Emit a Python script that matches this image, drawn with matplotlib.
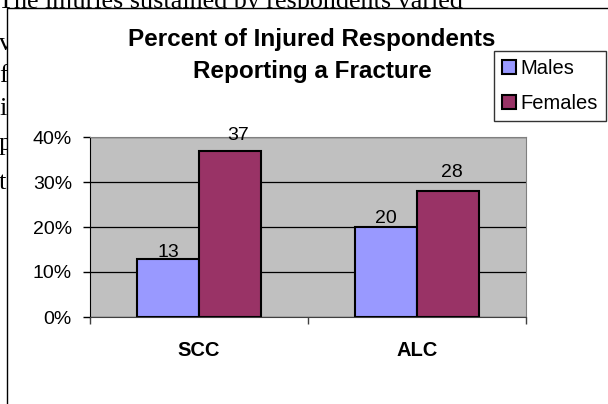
import numpy as np
import matplotlib.pyplot as plt
from matplotlib.patches import Rectangle, Patch

plt.rcParams['font.family'] = ['Liberation Sans', 'DejaVu Sans']

# Datos
categorias = ['SCC', 'ALC']
series = ['Males', 'Females']
males = [13, 20]
females = [37, 28]
yticks = [0, 10, 20, 30, 40]
ytick_labels = ['0%', '10%', '20%', '30%', '40%']

# Texto del documento que queda detrás del gráfico
linea_fondo = 'The injuries sustained by respondents varied'
letras_fondo = ['v', 'f', 'i', 'p', 't']

colores = ['#9999FF', '#993366']
W, H = 608, 404

fig = plt.figure(figsize=(W / 100, H / 100), dpi=100, facecolor='white')

# Texto del documento (detrás)
fig.text(-2 / W, 1 - 8 / H, linea_fondo, family='Liberation Serif',
         fontsize=18.8, va='baseline', ha='left', zorder=-3)
for letra, base in zip(letras_fondo, [50, 82, 115, 150, 189]):
    fig.text(-1 / W, 1 - base / H, letra, family='Liberation Serif',
             fontsize=19, va='baseline', ha='left', zorder=-3)

# Marco del gráfico
fig.patches.append(Rectangle((7 / W, -0.1), 1.2, 1 - 8 / H + 0.1,
                             transform=fig.transFigure, facecolor='white',
                             edgecolor='black', linewidth=1.0, zorder=-2))

ax = fig.add_axes([90 / W, 1 - 317 / H, 436 / W, 180 / H])
ax.set_facecolor('#C0C0C0')

x = np.arange(len(categorias))
ancho = 0.284
barras_m = ax.bar(x - ancho / 2, males, ancho, color=colores[0],
                  edgecolor='black', linewidth=1.5, zorder=3)
barras_f = ax.bar(x + ancho / 2, females, ancho, color=colores[1],
                  edgecolor='black', linewidth=1.5, zorder=3)

# Etiquetas de valor (desplazamientos en puntos, como en el original)
desp = [[(0, -2), (6, 5)], [(0, 0), (3, 7)]]
for i in range(len(categorias)):
    for j, (barras, vals) in enumerate([(barras_m, males), (barras_f, females)]):
        b = barras[i]
        ax.annotate(str(vals[i]), xy=(b.get_x() + b.get_width() / 2, b.get_height()),
                    xytext=desp[i][j], textcoords='offset points',
                    ha='center', va='bottom', fontsize=14, zorder=4)

ax.set_xlim(-0.5, 1.5)
ax.set_ylim(0, 40)
ax.set_yticks(yticks)
ax.set_yticklabels(ytick_labels)
ax.yaxis.grid(True, color='black', linewidth=0.9)
ax.set_axisbelow(True)

ax.set_xticks(x)
ax.set_xticklabels(categorias, fontweight='bold', fontsize=14.5)
ax.set_xticks([-0.5, 0.5, 1.5], minor=True)
ax.tick_params(axis='x', which='major', length=0, pad=17)
ax.tick_params(axis='x', which='minor', length=5, width=1, color='#404040', direction='out')
ax.tick_params(axis='y', length=5, width=1, pad=8, labelsize=14, direction='out')

for lado in ['top', 'right']:
    ax.spines[lado].set_color('#808080')
ax.spines['left'].set_color('black')
ax.spines['bottom'].set_color('#404040')

# Título
fig.text(312 / W, 1 - 28 / H, 'Percent of Injured Respondents\nReporting a Fracture',
         ha='center', va='top', fontsize=17.5, fontweight='bold', linespacing=1.5)

# Leyenda
handles = [Patch(facecolor=c, edgecolor='black', linewidth=1.5) for c in colores]
leg = fig.legend(handles, series, loc='upper left',
                 bbox_to_anchor=(494 / W, 1 - 51 / H), fontsize=14.5,
                 frameon=True, fancybox=False, handlelength=0.7, handleheight=0.7,
                 handletextpad=0.2, labelspacing=0.8, borderpad=0.4,
                 borderaxespad=0)
leg.get_frame().set_edgecolor('black')
leg.get_frame().set_linewidth(1.0)

fig.savefig('out.png', dpi=100)
